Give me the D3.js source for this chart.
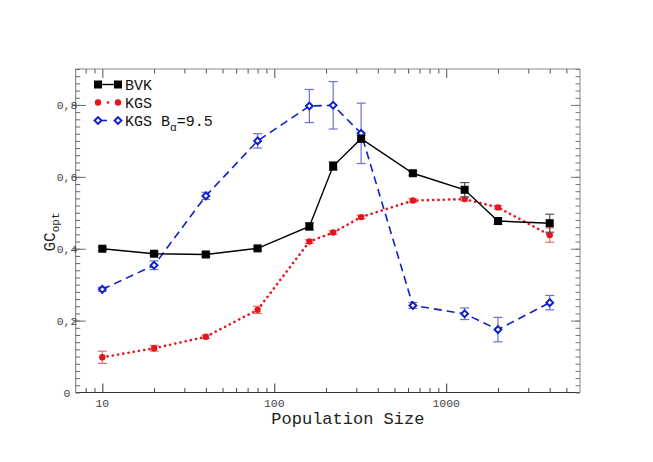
<!DOCTYPE html>
<html><head><meta charset="utf-8">
<script src="https://cdn.jsdelivr.net/npm/d3@7"></script>
<style>body{margin:0;background:#fff}svg{display:block}</style>
</head><body>
<svg id="c" width="653" height="462"></svg>
<script>
const popSizes = [10, 20, 40, 80, 160, 220, 320, 640, 1280, 2000, 4000];
const bvk    = [0.400, 0.386, 0.384, 0.401, 0.462, 0.630, 0.706, 0.610, 0.564, 0.477, 0.471];
const bvkErr = [0.005, 0.005, 0.005, 0.005, 0.010, 0.012, 0.010, 0.005, 0.020, 0.009, 0.025];
const kgs    = [0.098, 0.123, 0.155, 0.230, 0.420, 0.445, 0.488, 0.534, 0.538, 0.515, 0.438];
const kgsErr = [0.017, 0.008, 0.005, 0.010, 0.005, 0.005, 0.005, 0.005, 0.005, 0.005, 0.020];
const kgsB   = [0.287, 0.354, 0.547, 0.700, 0.797, 0.799, 0.721, 0.242, 0.219, 0.175, 0.250];
const kgsBErr= [0.006, 0.012, 0.010, 0.020, 0.046, 0.066, 0.084, 0.008, 0.016, 0.034, 0.020];
const xMajor = [10, 100, 1000];
const xMajorLabels = ["10", "100", "1000"];
const xMinor = [8, 9, 20, 30, 40, 50, 60, 70, 80, 90, 200, 300, 400, 500, 600, 700, 800, 900, 2000, 3000, 4000, 5000];
const yMajor = [0, 0.2, 0.4, 0.6, 0.8];
const yMajorLabels = ["0", "0,2", "0,4", "0,6", "0,8"];
const seriesNames = ["BVK", "KGS", "KGS B"];

const svg = d3.select("#c");
const L = 75.7, R = 580, T = 69, B = 392.5;
const x = d3.scaleLog().domain([7, 6000]).range([L, R]);
const y = d3.scaleLinear().domain([0, 0.9]).range([B, T]);
const yMinor = d3.range(0, 0.9001, 0.02).map(v => +v.toFixed(2));
const mono = "'Liberation Mono','DejaVu Sans Mono',monospace";

// frame lines
svg.append("line").attr("x1", L).attr("x2", R).attr("y1", T).attr("y2", T).attr("stroke", "#888");
svg.append("line").attr("x1", L).attr("x2", L).attr("y1", T).attr("y2", B).attr("stroke", "#777");
svg.append("line").attr("x1", R).attr("x2", R).attr("y1", T).attr("y2", B).attr("stroke", "#888");
svg.append("line").attr("x1", L).attr("x2", R).attr("y1", B).attr("y2", B).attr("stroke", "#333");

function ticks(axis, vals, size, color, pos) {
  const g = svg.append("g").attr("transform", pos);
  g.call(axis.tickValues(vals).tickSizeInner(size).tickSizeOuter(0).tickFormat(""));
  g.select(".domain").remove();
  g.selectAll(".tick line").attr("stroke", color);
  g.selectAll(".tick text").remove();
  return g;
}
ticks(d3.axisBottom(x), xMajor, -9, "#333", `translate(0,${B})`);
ticks(d3.axisBottom(x), xMinor, -4.5, "#444", `translate(0,${B})`);
ticks(d3.axisTop(x), xMajor, -9, "#555", `translate(0,${T})`);
ticks(d3.axisTop(x), xMinor, -4.5, "#555", `translate(0,${T})`);
ticks(d3.axisLeft(y), yMajor.filter(v=>v>0), -10, "#666", `translate(${L},0)`);
ticks(d3.axisLeft(y), yMinor, -4.5, "#666", `translate(${L},0)`);
ticks(d3.axisRight(y), yMajor.filter(v=>v>0), -9, "#777", `translate(${R},0)`);
ticks(d3.axisRight(y), yMinor, -4.5, "#777", `translate(${R},0)`);
svg.append("g").selectAll("line").data(yMajor.filter(v=>v>0)).join("line")
  .attr("x1", L - 3).attr("x2", L).attr("y1", d => y(d)).attr("y2", d => y(d)).attr("stroke", "#666");

// tick labels
svg.append("g").selectAll("text").data(xMajor).join("text")
  .attr("x", d => x(d)).attr("y", B + 14).attr("text-anchor", "middle")
  .attr("font-family", mono).attr("font-size", 11.5).attr("fill", "#444")
  .text((d, i) => xMajorLabels[i]);
svg.append("g").selectAll("text").data(yMajor).join("text")
  .attr("x", 67).attr("y", d => y(d) + 4).attr("text-anchor", "middle")
  .attr("font-family", mono).attr("font-size", 11.5).attr("fill", "#444")
  .text((d, i) => yMajorLabels[i]);

// axis titles
svg.append("text").attr("x", (L + R) / 2 + 20).attr("y", 424).attr("text-anchor", "middle")
  .attr("font-family", mono).attr("font-size", 17).attr("fill", "#222").text("Population Size");
const yl = svg.append("text").attr("transform", "translate(55,232) rotate(-90)")
  .attr("text-anchor", "middle").attr("font-family", mono).attr("font-size", 16).attr("fill", "#222");
yl.append("tspan").text("GC");
yl.append("tspan").attr("font-size", 11).attr("dy", 4).text("opt");

// series
const series = [
  {name: seriesNames[0], vals: bvk, err: bvkErr, color: "#000", errColor: "#555", dash: null, width: 1.4, marker: "square"},
  {name: seriesNames[1], vals: kgs, err: kgsErr, color: "#e8141c", errColor: "#ee6a6a", dash: "0.1 5.2", width: 2.6, marker: "circle"},
  {name: seriesNames[2], vals: kgsB, err: kgsBErr, color: "#1020c8", errColor: "#6a70e0", dash: "8 5", width: 1.6, marker: "diamond"}
];
const line = d3.line().x(d => x(d[0])).y(d => y(d[1]));

function drawMarker(g, type, cx, cy, color) {
  if (type === "square") {
    g.append("rect").attr("x", cx - 4).attr("y", cy - 4).attr("width", 8).attr("height", 8).attr("fill", color);
  } else if (type === "circle") {
    g.append("circle").attr("cx", cx).attr("cy", cy).attr("r", 3.2).attr("fill", color);
  } else {
    g.append("path").attr("d", `M${cx},${cy-3.4}L${cx+3.4},${cy}L${cx},${cy+3.4}L${cx-3.4},${cy}Z`)
      .attr("fill", "#fff").attr("stroke", color).attr("stroke-width", 2);
  }
}

[series[2], series[1], series[0]].forEach(s => {
  const g = svg.append("g");
  const pts = popSizes.map((p, i) => [p, s.vals[i]]);
  pts.forEach((d, i) => {
    const cx = x(d[0]), y1 = y(d[1] - s.err[i]), y2 = y(d[1] + s.err[i]);
    g.append("line").attr("x1", cx).attr("x2", cx).attr("y1", y1).attr("y2", y2).attr("stroke", s.errColor).attr("stroke-width", 1.2);
    [y1, y2].forEach(yy => g.append("line").attr("x1", cx - 4.5).attr("x2", cx + 4.5).attr("y1", yy).attr("y2", yy).attr("stroke", s.errColor).attr("stroke-width", 1.2));
  });
  g.append("path").attr("d", line(pts)).attr("fill", "none").attr("stroke", s.color)
    .attr("stroke-width", s.width).attr("stroke-dasharray", s.dash)
    .attr("stroke-linecap", s.marker === "circle" ? "round" : "butt");
  pts.forEach(d => drawMarker(g, s.marker, x(d[0]), y(d[1]), s.color));
});

// legend
const legY = [84.5, 102.5, 120.5];
series.forEach((s, i) => {
  const g = svg.append("g");
  const yy = legY[i];
  g.append("line").attr("x1", 98).attr("x2", 118).attr("y1", yy).attr("y2", yy)
    .attr("stroke", s.color).attr("stroke-width", s.width)
    .attr("stroke-dasharray", s.marker === "circle" ? "0.1 10" : (s.marker === "diamond" ? "6 20" : null))
    .attr("stroke-dashoffset", s.marker === "circle" ? -10 : (s.marker === "diamond" ? -3 : 0))
    .attr("stroke-linecap", s.marker === "circle" ? "round" : "butt");
  drawMarker(g, s.marker, 98, yy, s.color);
  drawMarker(g, s.marker, 118, yy, s.color);
  const t = g.append("text").attr("x", 125).attr("y", yy + 5)
    .attr("font-family", mono).attr("font-size", 15).attr("fill", "#111");
  if (i < 2) t.text(s.name);
  else {
    t.append("tspan").text(s.name);
    t.append("tspan").attr("font-size", 11).attr("dy", 5).text("α");
    t.append("tspan").attr("dy", -5).text("=9.5");
  }
});
</script>
</body></html>
